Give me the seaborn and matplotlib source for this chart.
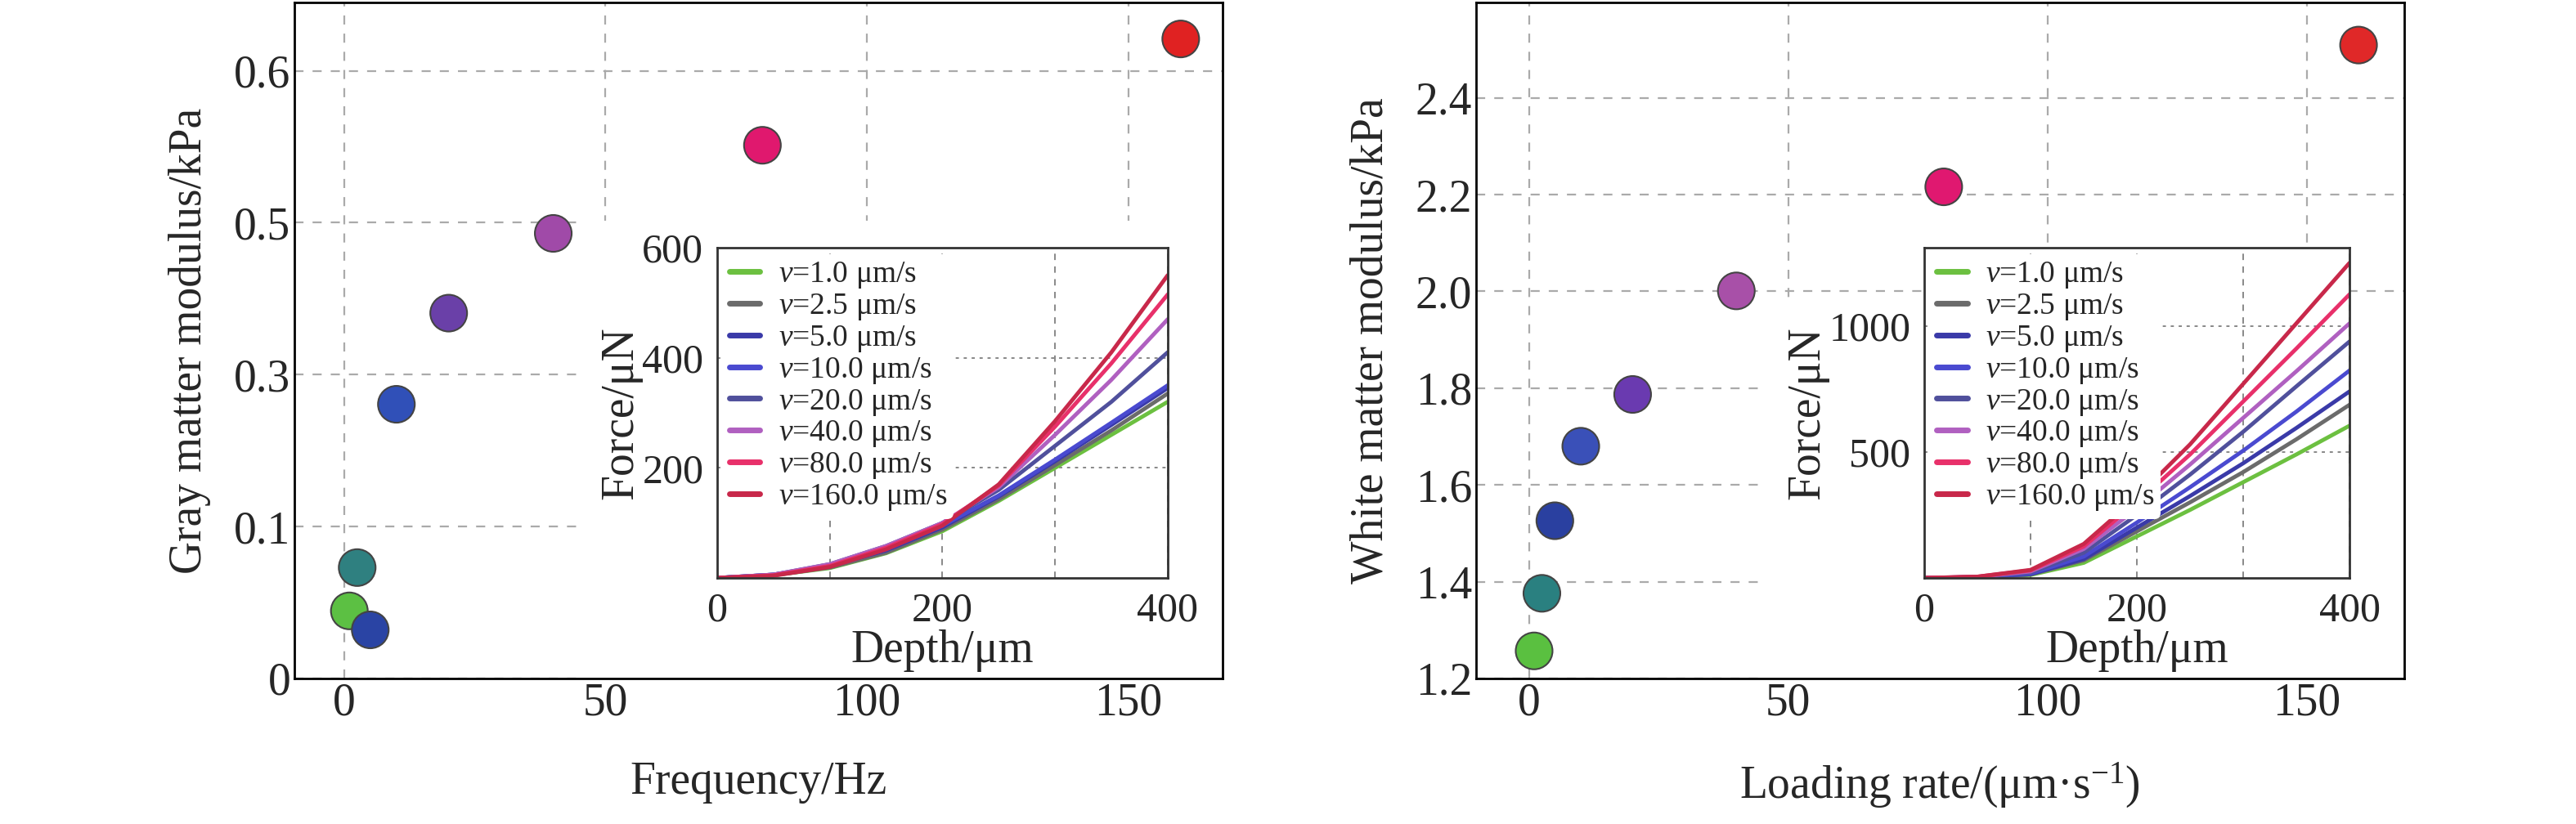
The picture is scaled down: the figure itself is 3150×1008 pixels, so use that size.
import numpy as np
import pandas as pd
import matplotlib.pyplot as plt
import seaborn as sns
from matplotlib.patches import Rectangle

sns.set_style("white")
plt.rcParams["font.family"] = ["Liberation Serif", "DejaVu Serif"]
plt.rcParams["mathtext.fontset"] = "custom"
plt.rcParams["mathtext.it"] = "Liberation Serif:italic"
plt.rcParams["mathtext.rm"] = "Liberation Serif"

# modulus vs rate
rate = [1.0, 2.5, 5.0, 10.0, 20.0, 40.0, 80.0, 160.0]
gray_mod = [0.0445, 0.073, 0.032, 0.261, 0.381, 0.486, 0.551, 0.621]
white_mod = [1.257, 1.376, 1.526, 1.680, 1.787, 2.001, 2.216, 2.509]
gray_dot_colors = ["#5cc043", "#2f8080", "#2a44a4", "#3050b8", "#6a40a8", "#a04aa8", "#e0186e", "#e02222"]
white_dot_colors = ["#5ac040", "#2a8080", "#2a40a0", "#3a50b8", "#6a3ab0", "#a850a8", "#e01870", "#e02828"]

# force-depth curves (insets)
depth = [0, 50, 100, 150, 200, 250, 300, 350, 400]
gray_force = {
    1.0: [0, 5, 18, 45, 85, 140, 200, 260, 320],
    2.5: [0, 5, 19, 46, 88, 143, 205, 268, 335],
    5.0: [0, 6, 22, 50, 92, 148, 212, 278, 345],
    10.0: [0, 6, 22, 52, 95, 150, 215, 282, 350],
    20.0: [0, 6, 25, 58, 100, 160, 240, 320, 410],
    40.0: [0, 6, 25, 58, 100, 165, 260, 360, 470],
    80.0: [0, 5, 22, 55, 98, 168, 275, 390, 515],
    160.0: [0, 4, 20, 52, 95, 170, 285, 410, 550],
}
white_force = {
    1.0: [0, 3, 12, 60, 165, 270, 380, 490, 604],
    2.5: [0, 3, 14, 70, 185, 300, 420, 550, 687],
    5.0: [0, 3, 15, 75, 200, 325, 455, 595, 740],
    10.0: [0, 3, 18, 85, 220, 360, 505, 660, 823],
    20.0: [0, 4, 22, 100, 250, 410, 580, 760, 938],
    40.0: [0, 4, 26, 115, 275, 450, 635, 820, 1010],
    80.0: [0, 5, 30, 125, 300, 490, 700, 910, 1125],
    160.0: [0, 5, 32, 135, 320, 530, 770, 1010, 1250],
}
curve_colors = ["#6cc040", "#6b6b6b", "#3a3aa8", "#4a4ad0", "#50509c", "#b060c0", "#e8306a", "#c8284a"]
labels = [r"$v$=%.1f μm/s" % r for r in rate]

# gray axis has uneven tick spacing: 0, 0.1, 0.3, 0.5, 0.6 equally spaced
g_ticks = [0, 0.1, 0.3, 0.5, 0.6]
g_pos = [0, 1, 2, 3, 4]


def g_fwd(y):
    y = np.asarray(y, dtype=float)
    return np.where(y > 0.6, 4 + (y - 0.6) * 10, np.interp(y, g_ticks, g_pos))


def g_inv(p):
    p = np.asarray(p, dtype=float)
    return np.where(p > 4, 0.6 + (p - 4) / 10, np.interp(p, g_pos, g_ticks))


FS = 40
fig = plt.figure(figsize=(31.5, 10.08), dpi=100)


def panel(left, inset_left, inset_w, yvals, dcolors, forces, ylab, xlab, iylim, iyticks, patch_top):
    ax = fig.add_axes([left, 0.1766, 0.3603, 0.8204])
    df = pd.DataFrame({"rate": rate, "mod": yvals, "c": [str(i) for i in range(8)]})
    sns.scatterplot(data=df, x="rate", y="mod", hue="c", palette=dcolors, s=1050,
                    edgecolor="#444444", linewidth=1.5, legend=False, ax=ax, zorder=5)
    ax.grid(True, color="#aaaaaa", linestyle=(0, (5, 5)), linewidth=1.6)
    ax.set_axisbelow(True)
    ax.add_patch(Rectangle((0.308, 0), 0.692, patch_top, transform=ax.transAxes,
                           facecolor="white", edgecolor="none", zorder=1))
    ax.set_xlim(-9.5, 168)
    ax.set_xticks([0, 50, 100, 150])
    ax.set_xlabel(xlab, fontsize=FS, labelpad=32)
    ax.set_ylabel(ylab, fontsize=FS, labelpad=20)
    ax.tick_params(labelsize=FS, direction="in", length=4)
    for s in ax.spines.values():
        s.set_linewidth(2)
        s.set_color("black")

    ia = fig.add_axes([inset_left, 0.2986, inset_w, 0.4008])
    rows = []
    for r, lab in zip(rate, labels):
        for d, f in zip(depth, forces[r]):
            rows.append({"depth": d, "force": f, "v": lab})
    cdf = pd.DataFrame(rows)
    sns.lineplot(data=cdf, x="depth", y="force", hue="v", palette=curve_colors,
                 linewidth=3.5, ax=ia)
    ia.set_xlim(0, 400)
    ia.set_ylim(*iylim)
    ia.set_xticks([100, 200, 300], minor=True)
    ia.set_xticks([0, 200, 400])
    ia.set_yticks(iyticks)
    ia.grid(True, which="both", axis="x", color="#888888", linestyle=(0, (4, 4)), linewidth=1.4)
    ia.grid(True, axis="y", color="#888888", linestyle=(0, (2, 3)), linewidth=1.4)
    ia.tick_params(which="both", length=0, labelsize=FS - 4, pad=12)
    ia.set_xlabel("Depth/μm", fontsize=FS, labelpad=0)
    ia.set_ylabel("Force/μN", fontsize=FS, labelpad=0)
    for s in ia.spines.values():
        s.set_linewidth(2)
        s.set_color("#333333")
    leg = ia.legend(loc="upper left", fontsize=27, frameon=True, framealpha=1,
                    edgecolor="none", handlelength=1.0, labelspacing=0.05,
                    borderaxespad=0.2, handletextpad=0.6, borderpad=0.2)
    for h in leg.get_lines():
        h.set_linewidth(5)
    return ax


axg = panel(0.1143, 0.2784, 0.1749, gray_mod, gray_dot_colors, gray_force,
            "Gray matter modulus/kPa", "Frequency/Hz", (0, 600), [200, 400, 600], 0.677)
axg.set_yscale("function", functions=(g_fwd, g_inv))
axg.set_ylim(0, 0.645)
axg.set_yticks(g_ticks)
axg.set_yticklabels(["0", "0.1", "0.3", "0.5", "0.6"])

axw = panel(0.5730, 0.7470, 0.1651, white_mod, white_dot_colors, white_force,
            "White matter modulus/kPa", r"Loading rate/(μm·s$^{-1}$)", (0, 1310), [500, 1000], 0.553)
axw.set_xlim(-10.2, 168.8)
axw.set_ylim(1.2, 2.597)
axw.set_yticks([1.2, 1.4, 1.6, 1.8, 2.0, 2.2, 2.4])
axw.set_yticklabels(["1.2", "1.4", "1.6", "1.8", "2.0", "2.2", "2.4"])

fig.savefig("out.png", dpi=100)
